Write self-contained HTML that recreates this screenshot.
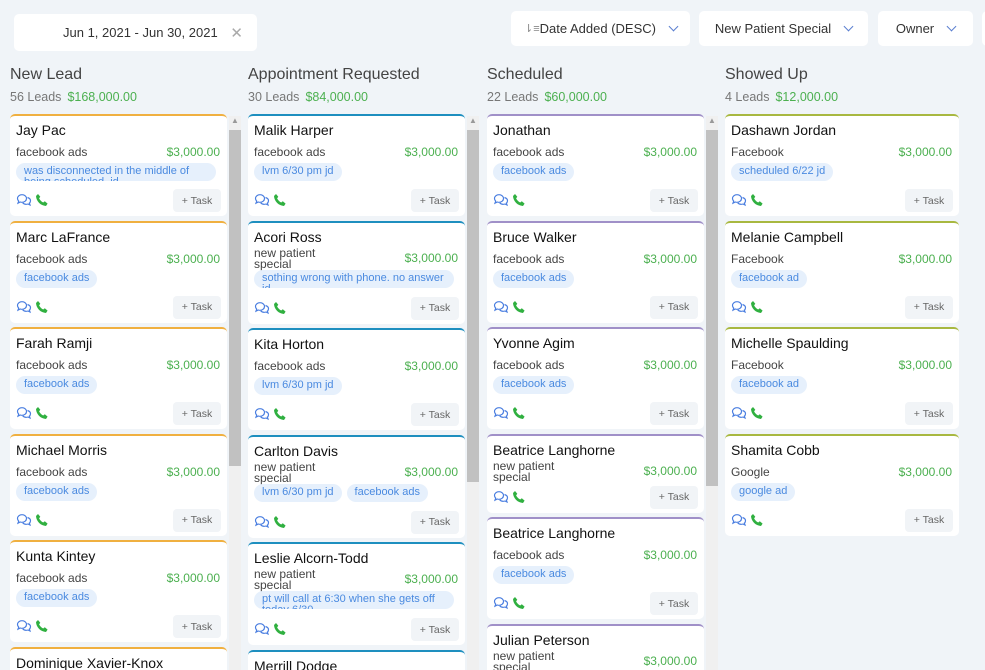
<!DOCTYPE html>
<html><head><meta charset="utf-8"><style>
html,body{margin:0;width:985px;height:670px;overflow:hidden}
body{background:#f0f4f8;font-family:"Liberation Sans",sans-serif;position:relative}
#board{position:absolute;left:0;top:0;width:985px;height:670px;overflow:hidden}
.box{position:absolute;background:#fff;border-radius:5px;font-size:13px;color:#333;display:flex;align-items:center;justify-content:center}
.chev{display:inline-block;width:6px;height:6px;border-right:1.3px solid #5b7fd0;border-bottom:1.3px solid #5b7fd0;transform:rotate(45deg);margin-left:14px;margin-top:-4px}
.colh{position:absolute;font-size:16px;color:#444}
.cols{position:absolute;font-size:12.5px;color:#777}
.cols b{font-weight:normal;color:#4cb050;margin-left:6px}
.card{position:absolute;background:#fff;border-radius:5px;border-top:2px solid;box-sizing:border-box;overflow:hidden}
.nm{position:absolute;left:6px;top:6px;font-size:14px;color:#111}
.src{position:absolute;left:6px;font-size:12px;color:#444;line-height:11px}
.amt{position:absolute;right:7px;font-size:12px;color:#4cb050}
.tags{position:absolute;left:6px;display:flex;gap:5px}
.tag{background:#e6f0fc;color:#4a8ae0;font-size:11px;border-radius:10px;padding:3px 8px 2px;line-height:11px;overflow:hidden;box-sizing:border-box;height:18px}
.task{position:absolute;right:6px;width:48px;height:23px;background:#f1f4f7;border-radius:4px;font-size:10.5px;color:#666;display:flex;align-items:center;justify-content:center}
.ic{position:absolute;left:6px;display:flex;gap:3px}
.sb{position:absolute;width:12px;background:#f0f0f0}
.sb i{position:absolute;left:0;width:12px;background:#c1c1c1}
</style></head><body>
<div class="box" style="left:14px;top:14px;width:243px;height:37px;justify-content:flex-start"><span style="margin-left:49px">Jun 1, 2021 - Jun 30, 2021</span><span style="position:absolute;right:14px;color:#aaa;font-size:15px">✕</span></div>
<div class="box" style="left:511px;top:11px;width:179px;height:35px"><span style="color:#888;font-size:11px">⇂≡</span>Date Added (DESC)<span class="chev"></span></div>
<div class="box" style="left:699px;top:11px;width:169px;height:35px">New Patient Special<span class="chev"></span></div>
<div class="box" style="left:878px;top:11px;width:95px;height:35px">Owner<span class="chev"></span></div>
<div class="box" style="left:982px;top:11px;width:10px;height:35px"></div>
<div id="board"></div>
<script>
const colTitles=["New Lead","Appointment Requested","Scheduled","Showed Up"];
const colCounts=["56 Leads","30 Leads","22 Leads","4 Leads"];
const colTotals=["$168,000.00","$84,000.00","$60,000.00","$12,000.00"];
const colX=[10,248,487,725];
const colW=[217,217,217,234];
const colColor=["#f0b040","#1e8fbf","#a090c8","#a8b840"];
const cards=[
[["Jay Pac","facebook ads","was disconnected in the middle of being scheduled. jd"],["Marc LaFrance","facebook ads","facebook ads"],["Farah Ramji","facebook ads","facebook ads"],["Michael Morris","facebook ads","facebook ads"],["Kunta Kintey","facebook ads","facebook ads"],["Dominique Xavier-Knox","facebook ads",""]],
[["Malik Harper","facebook ads","lvm 6/30 pm jd"],["Acori Ross","new patient|special","sothing wrong with phone. no answer jd"],["Kita Horton","facebook ads","lvm 6/30 pm jd"],["Carlton Davis","new patient|special","lvm 6/30 pm jd;facebook ads"],["Leslie Alcorn-Todd","new patient|special","pt will call at 6:30 when she gets off today 6/30"],["Merrill Dodge","facebook ads",""]],
[["Jonathan","facebook ads","facebook ads"],["Bruce Walker","facebook ads","facebook ads"],["Yvonne Agim","facebook ads","facebook ads"],["Beatrice Langhorne","new patient|special",""],["Beatrice Langhorne","facebook ads","facebook ads"],["Julian Peterson","new patient|special",""]],
[["Dashawn Jordan","Facebook","scheduled 6/22 jd"],["Melanie Campbell","Facebook","facebook ad"],["Michelle Spaulding","Facebook","facebook ad"],["Shamita Cobb","Google","google ad"]]
];
const chatSvg='<svg width="16" height="14" viewBox="0 0 16 14"><path d="M1.5 5.5c0-2.2 2-3.8 4.5-3.8s4.5 1.6 4.5 3.8-2 3.8-4.5 3.8c-.6 0-1.2-.1-1.7-.3L2 10.2l.7-2C2 7.5 1.5 6.5 1.5 5.5z" fill="none" stroke="#4a7ee0" stroke-width="1.2"/><path d="M11.5 4.5c1.8.5 3 1.8 3 3.3 0 .9-.4 1.7-1.1 2.3l.6 1.9-2-1c-.5.2-1.1.3-1.7.3-1.5 0-2.8-.6-3.6-1.5" fill="none" stroke="#4a7ee0" stroke-width="1.2"/></svg>';
const phoneSvg='<svg width="14" height="14" viewBox="0 0 14 14"><path d="M3 1l2.3 2.8-1.2 1.6c.9 1.8 2.3 3.2 4.1 4.1l1.6-1.2L12.6 10.6 11 13C5.5 12.6 1.3 8.4 1 3z" fill="#30b040"/></svg>';
const board=document.getElementById('board');
colTitles.forEach((t,c)=>{
  const h=document.createElement('div');h.className='colh';h.style.left=colX[c]+'px';h.style.top='66px';h.textContent=t;
  
  
  board.appendChild(h);
  const s=document.createElement('div');s.className='cols';s.style.left=colX[c]+'px';s.style.top='90px';s.innerHTML=colCounts[c]+'<b>'+colTotals[c]+'</b>';
  
  
  board.appendChild(s);
  if(c<3){const sb=document.createElement('div');sb.className='sb';sb.style.left=(colX[c]+219)+'px';sb.style.top='116px';sb.style.height='554px';
    sb.innerHTML='<span style="position:absolute;left:2px;top:0;font-size:8px;color:#999">▲</span><i style="top:14px;height:'+(c==1?352:c==0?336:356)+'px"></i>';
    
    
    board.appendChild(sb);}
  let y=114;
  cards[c].forEach(d=>{
    const two=d[1].includes('|');const short=two&&!d[2];
    const hgt=short?79:(two?103:102);
    const card=document.createElement('div');card.className='card';
    card.style.cssText='left:'+colX[c]+'px;top:'+y+'px;width:'+colW[c]+'px;height:'+hgt+'px;border-top-color:'+colColor[c];
    
    
    let html='<div class="nm">'+d[0]+'</div>';
    html+='<div class="src" style="top:'+(two?25:31)+'px">'+d[1].replace('|','<br>')+'</div>';
    html+='<div class="amt" style="top:'+(two?28:29)+'px">$3,000.00</div>';
    if(d[2]){html+='<div class="tags" style="top:47px">';d[2].split(';').forEach(tg=>{html+='<div class="tag" style="'+(tg.length>20?'width:200px':'')+'">'+tg+'</div>';});html+='</div>';}
    const iy=short?61:(two?85:84);
    html+='<div class="ic" style="top:'+(iy-7)+'px">'+chatSvg+phoneSvg+'</div>';
    html+='<div class="task" style="top:'+(iy-11)+'px">+ Task</div>';
    card.innerHTML=html;
    board.appendChild(card);
    y+=hgt+4.5;
  });
});
</script>
</body></html>
